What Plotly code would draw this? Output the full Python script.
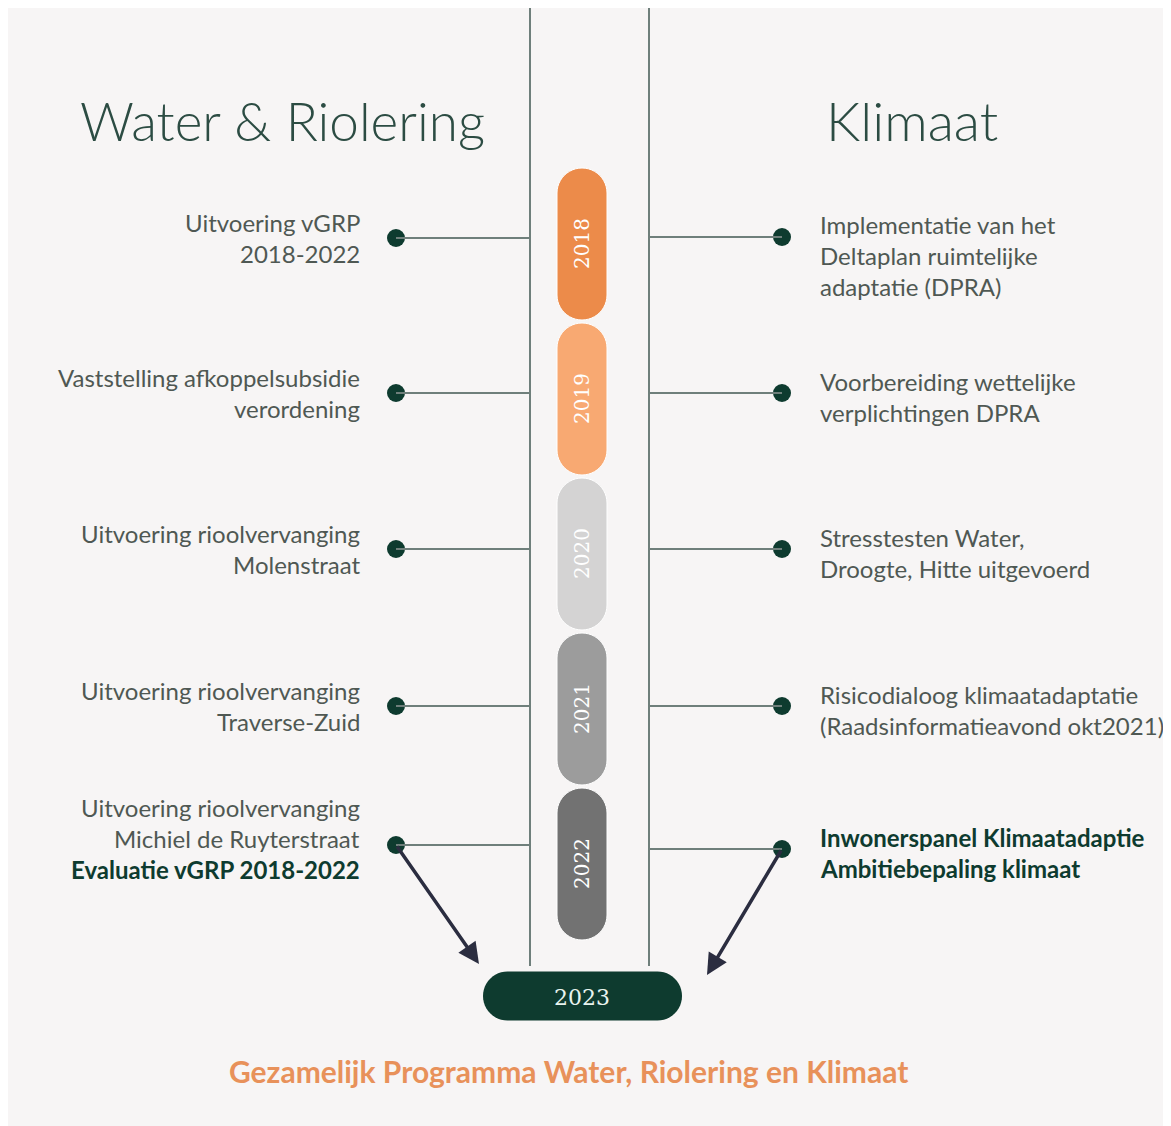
import math
import plotly.graph_objects as go

# ---------------- data ----------------
years = ["2018", "2019", "2020", "2021", "2022"]
year_colors = ["#ec8b4a", "#f8a972", "#d4d3d3", "#9c9c9c", "#727272"]
final_year = "2023"

left_title = "Water & Riolering"
right_title = "Klimaat"

left_items = [
    ["Uitvoering vGRP", "2018-2022"],
    ["Vaststelling afkoppelsubsidie", "verordening"],
    ["Uitvoering rioolvervanging", "Molenstraat"],
    ["Uitvoering rioolvervanging", "Traverse-Zuid"],
    ["Uitvoering rioolvervanging", "Michiel de Ruyterstraat", "Evaluatie vGRP 2018-2022"],
]
left_bold = [[0, 0], [0, 0], [0, 0], [0, 0], [0, 0, 1]]

right_items = [
    ["Implementatie van het", "Deltaplan ruimtelijke", "adaptatie (DPRA)"],
    ["Voorbereiding wettelijke", "verplichtingen DPRA"],
    ["Stresstesten Water,", "Droogte, Hitte uitgevoerd"],
    ["Risicodialoog klimaatadaptatie", "(Raadsinformatieavond okt2021)"],
    ["Inwonerspanel Klimaatadaptie", "Ambitiebepaling klimaat"],
]
right_bold = [[0, 0, 0], [0, 0], [0, 0], [0, 0], [1, 1]]

footer = "Gezamelijk Programma Water, Riolering en Klimaat"

# ---------------- layout constants ----------------
W, H = 1171, 1126
OFF = 8  # page margin of the html body
BG = "#f7f5f5"
DARK = "#0e3b2f"
LINE = "#6f7f7b"
TEXT = "#4f5853"
ARROW = "#2b2d40"

pill_cx, pill_w = 582, 50
pill_top0, pill_h, pill_step = 168, 152, 155
rail_l, rail_r = 530, 649
dot_l, dot_r = 396, 782
text_l, text_r = 362, 818
line_gap = 31
TXT_SIZE = 24


def pill_path(cx, y0, y1, w, n=24):
    r = w / 2
    pts = []
    for k in range(n + 1):
        a = math.pi + math.pi * k / n
        pts.append((cx + r * math.cos(a), y0 + r + r * math.sin(a)))
    for k in range(n + 1):
        a = math.pi * k / n
        pts.append((cx + r * math.cos(a), y1 - r + r * math.sin(a)))
    return "M " + " L ".join(f"{x:.2f},{y:.2f}" for x, y in pts) + " Z"


def hpill_path(x0, x1, cy, h, n=24):
    r = h / 2
    pts = []
    for k in range(n + 1):
        a = math.pi / 2 + math.pi * k / n
        pts.append((x0 + r + r * math.cos(a), cy + r * math.sin(a)))
    for k in range(n + 1):
        a = -math.pi / 2 + math.pi * k / n
        pts.append((x1 - r + r * math.cos(a), cy + r * math.sin(a)))
    return "M " + " L ".join(f"{x:.2f},{y:.2f}" for x, y in pts) + " Z"


fig = go.Figure()

shapes = []
annotations = []

# rails
for x in (rail_l, rail_r):
    shapes.append(dict(type="line", x0=x, x1=x, y0=0, y1=966,
                       line=dict(color=LINE, width=2), layer="below"))

left_dot_y = [238, 393, 549, 706, 845]
right_dot_y = [237, 393, 549, 706, 849]

for i, yr in enumerate(years):
    y0 = pill_top0 + i * pill_step
    y1 = y0 + pill_h
    shapes.append(dict(type="path", path=pill_path(pill_cx, y0, y1, pill_w),
                       fillcolor=year_colors[i], line=dict(color="#ffffff", width=1)))
    annotations.append(dict(x=pill_cx, y=(y0 + y1) / 2, text=yr, showarrow=False,
                            textangle=-90,
                            font=dict(family="DejaVu Serif", size=20, color="#ffffff")))
    ly, ry = left_dot_y[i], right_dot_y[i]
    shapes.append(dict(type="line", x0=dot_l, x1=rail_l, y0=ly, y1=ly,
                       line=dict(color=LINE, width=2)))
    shapes.append(dict(type="line", x0=rail_r, x1=dot_r, y0=ry, y1=ry,
                       line=dict(color=LINE, width=2)))

    # left text
    lines = left_items[i]
    start = ly - 16 if len(lines) == 2 else ly - 38
    for j, t in enumerate(lines):
        b = left_bold[i][j]
        annotations.append(dict(x=text_l, y=start + j * line_gap, text=t, showarrow=False,
                                xanchor="right", yanchor="middle",
                                font=dict(family="Lato", size=TXT_SIZE,
                                          color=DARK if b else TEXT,
                                          weight="bold" if b else "normal")))
    # right text
    lines = right_items[i]
    start = ry - 13 if len(lines) == 3 else ry - 12
    for j, t in enumerate(lines):
        b = right_bold[i][j]
        annotations.append(dict(x=text_r, y=start + j * line_gap, text=t, showarrow=False,
                                xanchor="left", yanchor="middle",
                                font=dict(family="Lato", size=TXT_SIZE,
                                          color=DARK if b else TEXT,
                                          weight="bold" if b else "normal")))

# arrows from last dots to final pill
annotations.append(dict(x=479, y=964, ax=dot_l, ay=left_dot_y[-1],
                        xref="x", yref="y", axref="x", ayref="y", text="",
                        showarrow=True, arrowhead=2, arrowsize=1.2, arrowwidth=3.5,
                        arrowcolor=ARROW))
annotations.append(dict(x=707, y=975, ax=dot_r, ay=right_dot_y[-1],
                        xref="x", yref="y", axref="x", ayref="y", text="",
                        showarrow=True, arrowhead=2, arrowsize=1.2, arrowwidth=3.5,
                        arrowcolor=ARROW))

# dots
fig.add_trace(go.Scatter(x=[dot_l] * len(years) + [dot_r] * len(years),
                         y=left_dot_y + right_dot_y, mode="markers",
                         marker=dict(size=18, color=DARK), hoverinfo="skip",
                         showlegend=False))

# final pill
shapes.append(dict(type="path", path=hpill_path(483, 682, 996, 49),
                   fillcolor=DARK, line=dict(width=0)))
annotations.append(dict(x=582, y=997, text=final_year, showarrow=False,
                        font=dict(family="DejaVu Serif", size=22, color="#e8f3ee")))

# titles
annotations.append(dict(x=282, y=120, text=left_title, showarrow=False,
                        font=dict(family="Lato", size=53, color="#2c4c43", weight=300)))
annotations.append(dict(x=912, y=120, text=right_title, showarrow=False,
                        font=dict(family="Lato", size=54, color="#2c4c43", weight=300)))

# footer
annotations.append(dict(x=568, y=1071, text=footer, showarrow=False,
                        font=dict(family="Lato", size=30, color="#e8915a", weight="bold")))

fig.update_layout(
    width=W - OFF, height=H - OFF, margin=dict(l=0, r=0, t=0, b=0),
    paper_bgcolor=BG, plot_bgcolor=BG,
    xaxis=dict(range=[OFF, W], visible=False, fixedrange=True),
    yaxis=dict(range=[H, OFF], visible=False, fixedrange=True),
    shapes=shapes, annotations=annotations, showlegend=False,
)

fig.write_html("out.html")
